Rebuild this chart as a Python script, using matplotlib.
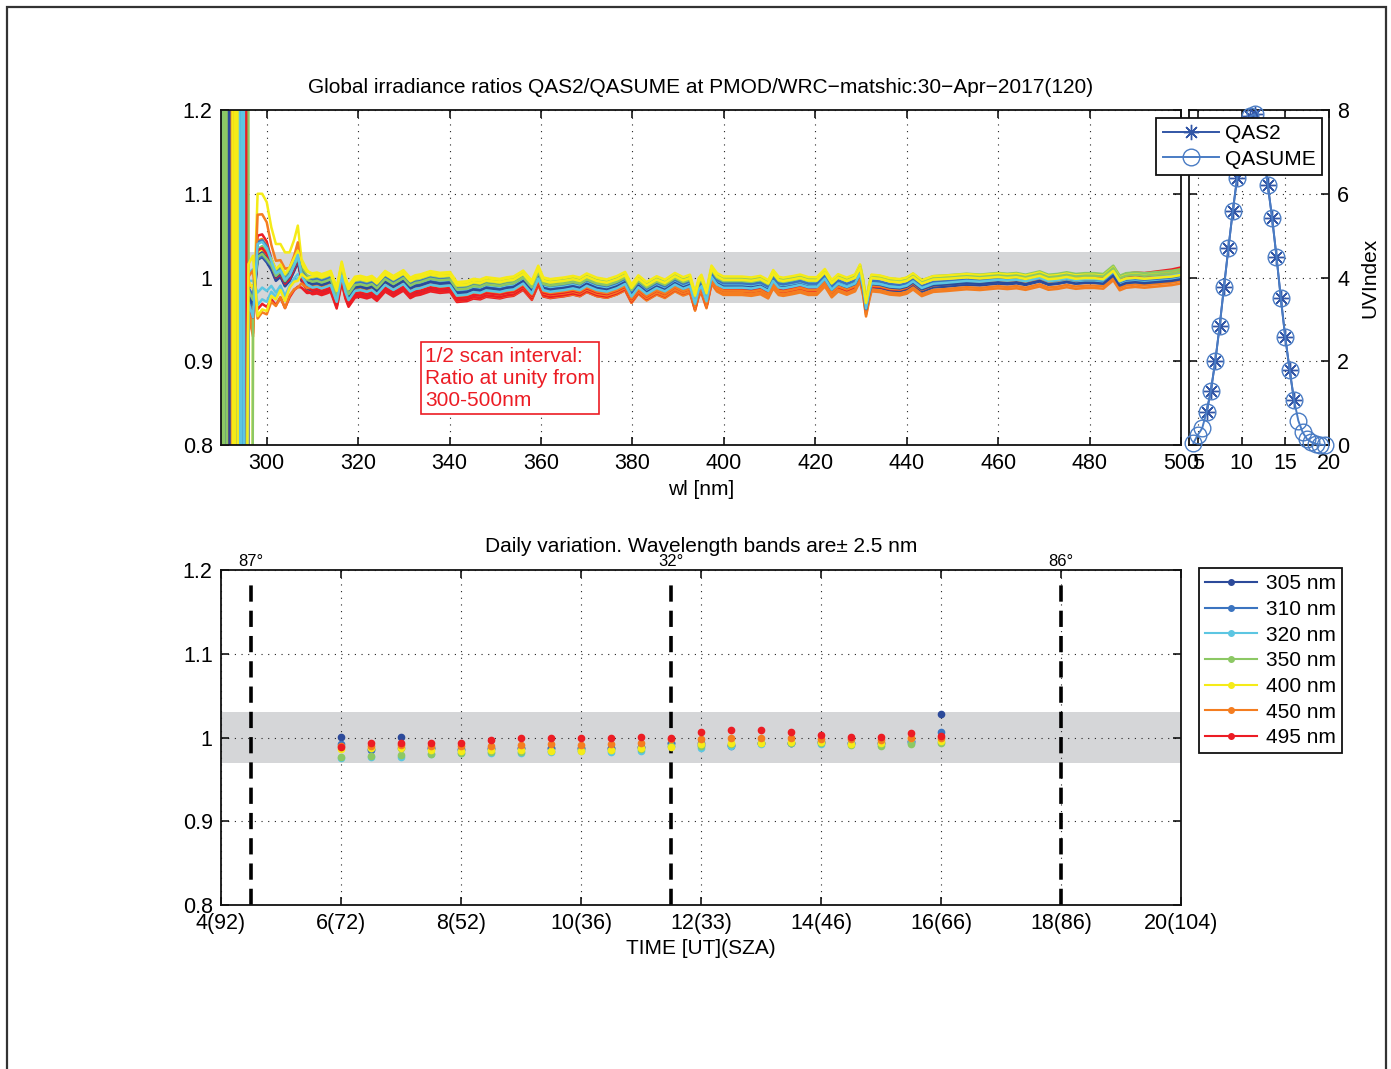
import matplotlib.pyplot as plt
from matplotlib.lines import Line2D
from matplotlib.patches import Rectangle
import numpy as np

plt.rcParams['font.family'] = ['Liberation Sans', 'DejaVu Sans']

# ---------------- data: spectral ratios (top panel) ----------------
base_wl = [296, 297, 298, 299, 300, 301, 302, 303, 304, 305, 306, 306.8, 307.6, 308.8, 310,
           311, 312, 313.1, 314, 315.3, 316.4, 317.2, 317.9, 319.3, 320.5, 321.9, 323, 324.1,
           325.9, 327.7, 329.9, 331.4, 332.5, 333.6, 335.8, 337.9, 340.1, 341.6, 343.8, 345.2,
           346.7, 348, 349.6, 351, 352.5, 354, 356.1, 358, 359.4, 360.5, 362, 363.4, 365, 367,
           368.5, 370, 372.2, 374.4, 376.6, 378.4, 379.8, 381.3, 383.1, 385.3, 387.1, 389.3,
           391.1, 392.6, 393.7, 394.5, 395.1, 396.2, 397.3, 398.5, 399.9, 402, 404, 406, 408,
           409.7, 410.8, 412, 413, 415, 416.7, 418.5, 420.3, 422.1, 423.6, 425, 426.9, 428.7,
           429.8, 430.5, 431.1, 431.8, 432.3, 434.2, 436.3, 438.5, 440, 441.4, 443.3, 445.8,
           448.7, 451, 453.1, 456, 458, 460, 462, 464, 466, 467.5, 469.1, 471, 473, 475, 477,
           479, 481, 483, 485.2, 486.6, 488, 490, 492, 494, 496, 498, 500]
base_ratio = [0.990, 0.985, 1.000, 1.005, 1.000, 1.000, 0.990, 0.997, 0.985, 0.995, 1.005, 1.012,
              1.002, 0.994, 0.993, 0.994, 0.992, 0.994, 0.996, 0.976, 1.007, 0.988, 0.978, 0.989,
              0.990, 0.988, 0.990, 0.985, 0.996, 0.990, 0.997, 0.988, 0.991, 0.992, 0.996, 0.994,
              0.995, 0.983, 0.984, 0.987, 0.986, 0.989, 0.988, 0.987, 0.989, 0.990, 0.997, 0.985,
              1.003, 0.989, 0.987, 0.988, 0.989, 0.991, 0.989, 0.994, 0.989, 0.987, 0.991, 0.996,
              0.981, 0.992, 0.984, 0.991, 0.987, 0.995, 0.990, 0.993, 0.972, 0.989, 0.993, 0.975,
              1.004, 0.995, 0.991, 0.991, 0.991, 0.990, 0.992, 0.987, 0.999, 0.991, 0.990, 0.992,
              0.994, 0.991, 0.991, 1.001, 0.988, 0.995, 0.991, 0.995, 1.007, 0.989, 0.965, 0.984,
              0.995, 0.994, 0.991, 0.990, 0.992, 0.997, 0.989, 0.994, 0.995, 0.996, 0.997, 0.996,
              0.997, 0.998, 0.997, 0.998, 0.996, 0.998, 1.000, 0.996, 0.997, 0.999, 0.997, 0.998,
              0.998, 0.997, 1.007, 0.995, 0.998, 0.999, 0.998, 0.999, 1.000, 1.001, 1.003]
# extra deviation of the short-wavelength end (first knots, 296-310 nm)
early_dev = [-0.03, -0.055, 0.09, 0.085, 0.08, 0.05, 0.04, 0.033, 0.035, 0.025, 0.03, 0.04,
             0.01, 0.005, 0.0]
# one entry per scan (21 scans)
scan_color = [0, 6, 5, 1, 2, 3, 4, 0, 6, 5, 1, 3, 2, 4, 6, 5, 0, 1, 3, 2, 4]
offset_wl = [320, 410, 500]
scan_off_320 = [-0.006, -0.013, -0.010, -0.003, 0.000, 0.004, 0.010, -0.009, -0.011, -0.006,
                0.001, 0.007, 0.003, 0.012, -0.008, -0.004, -0.001, 0.004, 0.002, -0.005, 0.008]
scan_off_410 = [-0.008, -0.010, -0.012, -0.001, 0.003, 0.006, 0.007, -0.004, -0.009, -0.010,
                -0.003, 0.008, 0.000, 0.010, -0.006, -0.007, -0.002, 0.002, 0.005, -0.003, 0.006]
scan_off_500 = [-0.003, 0.009, -0.010, -0.002, -0.006, 0.006, 0.002, 0.000, 0.005, -0.007,
                -0.004, 0.007, -0.003, 0.004, 0.003, 0.002, -0.005, -0.001, 0.004, 0.001, 0.000]
scan_amp = [0.3, 0.7, 0.6, 0.5, -0.2, 0.25, 1.0, 0.4, -0.3, 0.9, 0.35, 0.3, -0.4, 0.2, 0.45,
            -0.5, 0.3, 0.2, 0.25, 0.5, -0.6]
scan_cut = [292.4, 293.1, 291.2, 294.0, 295.6, 293.6, 296.0, 291.8, 294.6, 292.9, 295.1, 296.3,
            290.8, 294.3, 295.8, 293.3, 292.1, 294.9, 291.5, 295.3, 293.9]
# unstable ratio below the cut (off scale)
swing_dwl = [-1.6, -1.1, -0.55, 0.0]
swing_ratio = [3.0, -1.0, 3.0, -1.0]

# ---------------- data: UV index (right panel) ----------------
uv_time_qasume = [4.5, 5.0, 5.5, 6.0, 6.5, 7.0, 7.5, 8.0, 8.5, 9.0, 9.5, 10.0, 10.5, 11.0, 11.5,
                  12.0, 12.5, 13.0, 13.5, 14.0, 14.5, 15.0, 15.5, 16.0, 16.5, 17.0, 17.5, 18.0,
                  18.5, 19.0, 19.5]
uv_qasume = [0.05, 0.24, 0.4, 0.78, 1.3, 2.0, 2.84, 3.78, 4.7, 5.58, 6.38, 7.0, 7.5, 7.85, 7.9,
             7.6, 7.0, 6.22, 5.42, 4.5, 3.5, 2.58, 1.8, 1.08, 0.58, 0.3, 0.14, 0.07, 0.03, 0.01, 0.0]
uv_time_qas2 = [6.0, 6.5, 7.0, 7.5, 8.0, 8.5, 9.0, 9.5, 10.0, 10.5, 11.0, 11.5, 12.0, 12.5, 13.0,
                13.5, 14.0, 14.5, 15.0, 15.5, 16.0]
uv_qas2 = [0.78, 1.3, 2.0, 2.84, 3.78, 4.7, 5.58, 6.38, 7.0, 7.5, 7.85, 7.9, 7.6, 7.0, 6.22,
           5.42, 4.5, 3.5, 2.58, 1.8, 1.08]

# ---------------- data: daily variation (bottom panel) ----------------
scan_time = uv_time_qas2
band_labels = ['305 nm', '310 nm', '320 nm', '350 nm', '400 nm', '450 nm', '495 nm']
r305 = [1.001, 0.986, 1.001, 0.988, 0.986, 0.987, 0.988, 0.988, 0.988, 0.988, 0.989, 0.994,
        0.993, 0.991, 0.993, 0.994, 0.995, 0.993, 0.994, 0.996, 1.028]
r310 = [0.992, 0.985, 0.988, 0.987, 0.985, 0.986, 0.987, 0.988, 0.988, 0.988, 0.989, 0.993,
        0.991, 0.990, 0.993, 0.994, 0.995, 0.994, 0.994, 0.995, 1.007]
r320 = [0.976, 0.977, 0.977, 0.980, 0.981, 0.981, 0.982, 0.983, 0.984, 0.983, 0.984, 0.990,
        0.988, 0.990, 0.992, 0.993, 0.992, 0.993, 0.991, 0.993, 0.995]
r350 = [0.977, 0.978, 0.979, 0.980, 0.982, 0.983, 0.983, 0.984, 0.985, 0.985, 0.986, 0.990,
        0.990, 0.992, 0.993, 0.994, 0.993, 0.991, 0.990, 0.992, 0.994]
r400 = [0.986, 0.988, 0.987, 0.985, 0.984, 0.985, 0.985, 0.984, 0.984, 0.985, 0.987, 0.989,
        0.992, 0.994, 0.994, 0.995, 0.995, 0.992, 0.994, 1.000, 0.996]
r450 = [0.990, 0.990, 0.991, 0.990, 0.990, 0.990, 0.991, 0.992, 0.991, 0.992, 0.993, 0.998,
        0.998, 1.000, 1.000, 1.000, 0.998, 0.998, 0.997, 0.999, 1.000]
r495 = [0.989, 0.993, 0.993, 0.993, 0.994, 0.997, 0.999, 0.999, 0.999, 0.999, 1.001, 1.000,
        1.007, 1.009, 1.009, 1.006, 1.003, 1.001, 1.001, 1.005, 1.002]
band_ratios = [r305, r310, r320, r350, r400, r450, r495]

time_ticks = [4, 6, 8, 10, 12, 14, 16, 18, 20]
time_ticklabels = ['4(92)', '6(72)', '8(52)', '10(36)', '12(33)', '14(46)', '16(66)', '18(86)', '20(104)']
sza_marks_time = [4.5, 11.5, 18.0]
sza_marks_label = ['87°', '32°', '86°']

# ---------------- style ----------------
COLORS = ['#2c4a9a', '#3b74c0', '#5cc6e2', '#8cc864', '#f5eb18', '#f47d20', '#ec1c24']
BAND = '#d5d6d8'
GRID = dict(color='#222222', linestyle=(0, (1, 5)), linewidth=0.8)
FS = 15.5

fig = plt.figure(figsize=(13.91, 10.69), dpi=100)
fig.patch.set_facecolor('white')
fig.patches.append(Rectangle((0.005, -0.05), 0.9913, 1.0435, transform=fig.transFigure,
                             fill=False, edgecolor='#333333', linewidth=1.6))


def style_axes(ax):
    ax.tick_params(direction='in', length=6, width=1.1, labelsize=FS, pad=6,
                   top=True, right=True)
    for s in ax.spines.values():
        s.set_linewidth(1.3)
        s.set_color('#111111')
    ax.set_axisbelow(True)
    ax.grid(True, **GRID)


# ---- top spectral ratio panel ----
ax1 = fig.add_axes([0.1589, 0.5837, 0.6901, 0.3134])
style_axes(ax1)
ax1.axhspan(0.97, 1.03, color=BAND, zorder=0.2, linewidth=0)
wl = np.array(base_wl)
dev = np.zeros(len(wl))
dev[:len(early_dev)] = early_dev
for i in range(len(scan_cut)):
    off = np.interp(wl, offset_wl, [scan_off_320[i], scan_off_410[i], scan_off_500[i]])
    r = np.array(base_ratio) + off + scan_amp[i] * dev
    keep = wl > scan_cut[i]
    x = np.concatenate([scan_cut[i] + np.array(swing_dwl), wl[keep]])
    y = np.concatenate([swing_ratio, r[keep]])
    ax1.plot(x, y, color=COLORS[scan_color[i]], linewidth=1.8)
ax1.set_xlim(290, 500)
ax1.set_ylim(0.8, 1.2)
ax1.set_xticks(np.arange(300, 501, 20))
ax1.set_yticks([0.8, 0.9, 1.0, 1.1, 1.2])
ax1.set_yticklabels(['0.8', '0.9', '1', '1.1', '1.2'])
ax1.set_xlabel('wl [nm]', fontsize=15, labelpad=4)
ax1.set_title('Global irradiance ratios QAS2/QASUME at PMOD/WRC\u2212matshic:30\u2212Apr\u22122017(120)',
              fontsize=15, pad=12)
ax1.text(334.6, 0.9175, '1/2 scan interval:\nRatio at unity from\n300-500nm', color='#ec1c24',
         fontsize=15, va='top', ha='left', linespacing=1.2,
         bbox=dict(boxstyle='square,pad=0.2', facecolor='white', edgecolor='#ec1c24', linewidth=1.2))

# ---- UV index panel ----
ax2 = fig.add_axes([0.8548, 0.5837, 0.1006, 0.3134])
style_axes(ax2)
ax2.tick_params(labelleft=False, labelright=True)
ax2.plot(uv_time_qas2, uv_qas2, color='#3256a6', marker=(8, 2, 0), markersize=11,
         linewidth=1.4, clip_on=False, zorder=3, label='QAS2')
ax2.plot(uv_time_qasume, uv_qasume, color='#4a7cc4', marker='o', markersize=12,
         markerfacecolor='none', linewidth=1.4, clip_on=False, zorder=3, label='QASUME')
ax2.set_xlim(4, 20)
ax2.set_ylim(0, 8)
ax2.set_xticks([5, 10, 15, 20])
ax2.set_yticks([0, 2, 4, 6, 8])
ax2.yaxis.set_label_position('right')
ax2.set_ylabel('UVIndex', fontsize=15, labelpad=8)
leg1 = ax2.legend(loc='upper right', bbox_to_anchor=(0.9504, 0.8896), bbox_transform=fig.transFigure,
                  fontsize=15, frameon=True, fancybox=False, edgecolor='#111111', framealpha=1,
                  handlelength=2.7, handletextpad=0.3, labelspacing=0.3, borderpad=0.3,
                  borderaxespad=0)
leg1.get_frame().set_linewidth(1.3)
leg1.set_zorder(10)

# ---- daily variation panel ----
ax3 = fig.add_axes([0.1589, 0.1534, 0.6901, 0.3134])
style_axes(ax3)
ax3.axhspan(0.97, 1.03, color=BAND, zorder=0.2, linewidth=0)
for tm, lab in zip(sza_marks_time, sza_marks_label):
    ax3.plot([tm, tm], [0.8, 1.19], color='black', linewidth=2.6, linestyle=(0, (4.5, 2.5)), zorder=2)
    ax3.text(tm, 1.201, lab, fontsize=12, ha='center', va='bottom')
for vals, col in zip(band_ratios, COLORS):
    ax3.plot(scan_time, vals, linestyle='none', marker='o', markersize=4.5, color=col, zorder=3)
ax3.set_xlim(4, 20)
ax3.set_ylim(0.8, 1.2)
ax3.set_xticks(time_ticks)
ax3.set_xticklabels(time_ticklabels)
ax3.set_yticks([0.8, 0.9, 1.0, 1.1, 1.2])
ax3.set_yticklabels(['0.8', '0.9', '1', '1.1', '1.2'])
ax3.set_xlabel('TIME [UT](SZA)', fontsize=15, labelpad=3)
ax3.set_title('Daily variation. Wavelength bands are\u00b1 2.5 nm', fontsize=15, pad=13)

handles = [Line2D([0], [0], color=c, marker='o', markersize=4, linewidth=1.5) for c in COLORS]
leg2 = fig.legend(handles, band_labels, loc='upper left', bbox_to_anchor=(0.862, 0.4687),
                  fontsize=15, frameon=True, fancybox=False, edgecolor='#111111', framealpha=1,
                  handlelength=2.5, handletextpad=0.4, labelspacing=0.32, borderpad=0.3,
                  borderaxespad=0)
leg2.get_frame().set_linewidth(1.3)

fig.savefig('out.png', dpi=100, facecolor='white')
